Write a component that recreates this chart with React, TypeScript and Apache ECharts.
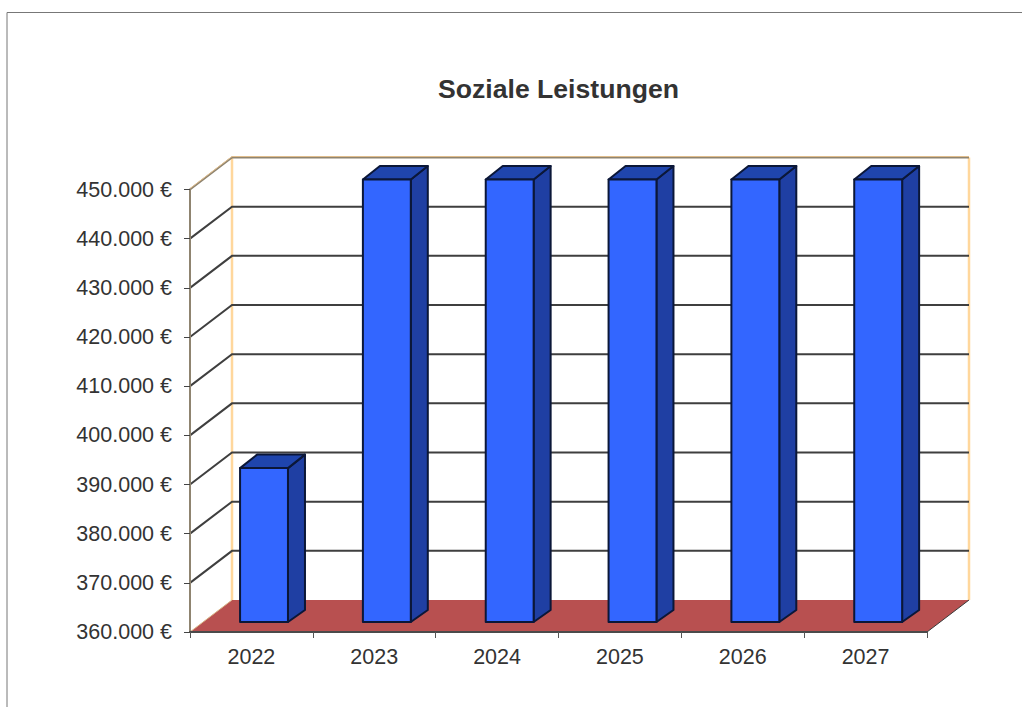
import React, { useEffect, useRef } from "react";
import * as echarts from "echarts";

const titleText = "Soziale Leistungen";
const years = ["2022", "2023", "2024", "2025", "2026", "2027"];
const values = [391300, 450000, 450000, 450000, 450000, 450000];
const gridLevels = [360000, 370000, 380000, 390000, 400000, 410000, 420000, 430000, 440000, 450000];

const WALL_DX = 42;
const WALL_DY = -32;
const BAR_DX = 12.6;
const BAR_DY = -10;
const SIDE_DX = 17;
const SIDE_DY = -13.5;

const formatEuro = (v: number) => String(v).replace(/\B(?=(\d{3})+$)/g, ".") + " €";

function renderWall(params: any, api: any) {
  const cs = params.coordSys;
  const left = cs.x;
  const right = cs.x + cs.width;
  const level = api.value(0);
  const y = api.coord([0, level])[1];
  const children: any[] = [];
  if (params.dataIndex === 0) {
    children.push({
      type: "polygon",
      shape: {
        points: [
          [left, y],
          [right, y],
          [right + WALL_DX, y + WALL_DY],
          [left + WALL_DX, y + WALL_DY],
        ],
      },
      style: { fill: "#b85050", stroke: "none" },
      z2: 2,
    });
    const topY = cs.y + WALL_DY;
    [left + WALL_DX, right + WALL_DX].forEach((x) => {
      children.push({
        type: "line",
        shape: { x1: x, y1: topY, x2: x, y2: y + WALL_DY },
        style: { stroke: "#ffd79c", lineWidth: 2.5 },
        z2: 1,
      });
    });
    children.push({
      type: "line",
      shape: { x1: left, y1: y, x2: left + WALL_DX, y2: y + WALL_DY },
      style: { stroke: "#d8b486", lineWidth: 1 },
      z2: 3,
    });
    children.push({
      type: "line",
      shape: { x1: right, y1: y, x2: right + WALL_DX, y2: y + WALL_DY },
      style: { stroke: "#3a3a3a", lineWidth: 1 },
      z2: 3,
    });
  } else {
    const isTop = params.dataIndex === gridLevels.length - 1;
    children.push({
      type: "polyline",
      shape: {
        points: [
          [left, y],
          [left + WALL_DX, y + WALL_DY],
          [right + WALL_DX, y + WALL_DY],
        ],
      },
      style: { stroke: isTop ? "#8f8470" : "#3f3f3f", lineWidth: 2, fill: "none" },
      z2: 2,
    });
    if (isTop) {
      children.push({
        type: "polyline",
        shape: {
          points: [
            [left, y - 1],
            [left + WALL_DX, y + WALL_DY - 1],
            [right + WALL_DX, y + WALL_DY - 1],
          ],
        },
        style: { stroke: "#e0bd8c", lineWidth: 1, fill: "none" },
        z2: 3,
      });
    }
  }
  return { type: "group", children };
}

function renderBar(params: any, api: any) {
  const cat = api.value(0);
  const val = api.value(1);
  const top = api.coord([cat, val]);
  const base = api.coord([cat, gridLevels[0]]);
  const w = api.size([1, 0])[0] * 0.39;
  const x0 = top[0] + BAR_DX - w / 2;
  const x1 = x0 + w;
  const yT = top[1] + BAR_DY;
  const yB = base[1] + BAR_DY;
  const edge = { stroke: "#0b1738", lineWidth: 2, lineJoin: "round" };
  return {
    type: "group",
    children: [
      {
        type: "polygon",
        shape: {
          points: [
            [x1, yB],
            [x1 + SIDE_DX, yB + SIDE_DY + 1.5],
            [x1 + SIDE_DX, yT + SIDE_DY],
            [x1, yT],
          ],
        },
        style: { fill: "#1f3fa3", ...edge },
      },
      {
        type: "polygon",
        shape: {
          points: [
            [x0, yT],
            [x1, yT],
            [x1 + SIDE_DX, yT + SIDE_DY],
            [x0 + SIDE_DX, yT + SIDE_DY],
          ],
        },
        style: { fill: "#1f45ad", ...edge },
      },
      {
        type: "polygon",
        shape: {
          points: [
            [x0, yB],
            [x1, yB],
            [x1, yT],
            [x0, yT],
          ],
        },
        style: { fill: "#3366ff", ...edge },
      },
    ],
  };
}

export default function App() {
  const ref = useRef<HTMLDivElement>(null);
  useEffect(() => {
    document.body.style.margin = "0";
    document.body.style.overflow = "hidden";
    const chart = echarts.init(ref.current!, null, { renderer: "svg" });
    chart.setOption({
      animation: false,
      backgroundColor: "#ffffff",
      textStyle: { fontFamily: "Liberation Sans" },
      title: {
        text: titleText,
        left: 553.5,
        top: 70,
        textAlign: "center",
        textStyle: { fontFamily: "Liberation Sans", fontSize: 26.6, fontWeight: "bold", color: "#333333" },
      },
      grid: { left: 190, right: 95, top: 189.5, height: 442.5 },
      xAxis: {
        type: "category",
        data: years,
        z: 5,
        axisLine: { lineStyle: { color: "#4a4a4a", width: 2 } },
        axisTick: { show: true, alignWithLabel: false, length: 6, lineStyle: { color: "#555555", width: 1 } },
        axisLabel: { color: "#333333", fontSize: 21.5, margin: 14, fontFamily: "Liberation Sans" },
        splitLine: { show: false },
      },
      yAxis: {
        type: "value",
        min: 360000,
        max: 450000,
        interval: 10000,
        z: 5,
        axisLine: { show: true, lineStyle: { color: "#8f8470", width: 2 } },
        axisTick: { show: true, length: 6, lineStyle: { color: "#444444", width: 1 } },
        axisLabel: { color: "#333333", fontSize: 21.5, margin: 18, formatter: formatEuro, fontFamily: "Liberation Sans" },
        splitLine: { show: false },
      },
      graphic: [
        {
          type: "polyline",
          shape: { points: [[7, 707], [7, 12.5], [1022, 12.5]] },
          style: { stroke: "#777777", lineWidth: 1, fill: "none" },
          silent: true,
        },
      ],
      series: [
        {
          type: "custom",
          name: "Raster",
          coordinateSystem: "cartesian2d",
          renderItem: renderWall,
          data: gridLevels.map((v) => [v]),
          encode: { y: 0 },
          z: 1,
          silent: true,
        },
        {
          type: "custom",
          name: "Soziale Leistungen",
          coordinateSystem: "cartesian2d",
          renderItem: renderBar,
          data: years.map((y, i) => [i, values[i]]),
          encode: { x: 0, y: 1 },
          z: 2,
          silent: true,
        },
      ],
    });
    return () => chart.dispose();
  }, []);
  return <div ref={ref} style={{ width: 1022, height: 707 }} />;
}
